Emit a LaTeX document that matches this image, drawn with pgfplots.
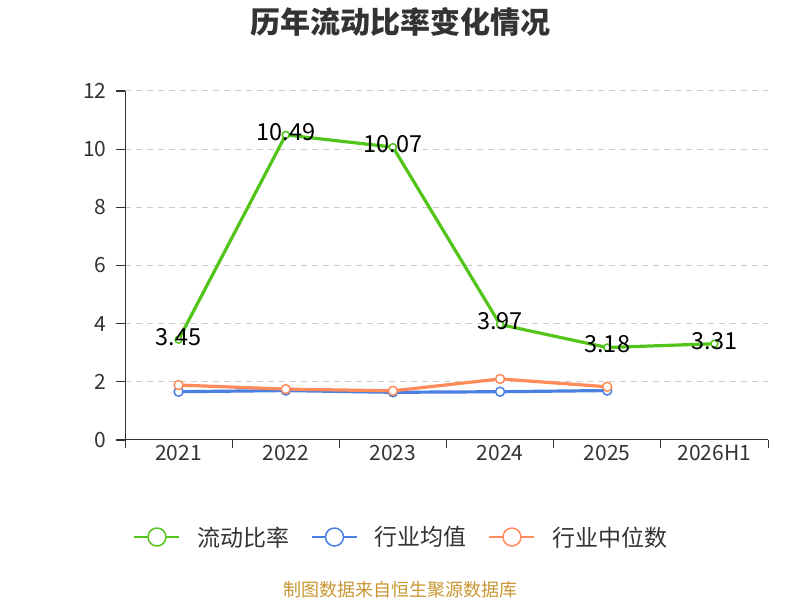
\documentclass[border=0pt]{standalone}
\usepackage{pgfplots}
\pgfplotsset{compat=1.18}
\usepackage{fontspec}
\setmainfont{Noto Sans CJK SC}
\definecolor{cgreen}{RGB}{82,196,26}
\definecolor{cblue}{RGB}{74,128,226}
\definecolor{corange}{RGB}{255,138,90}
\definecolor{ctext}{RGB}{51,51,51}
\definecolor{cgrid}{RGB}{204,204,204}
\definecolor{cfoot}{RGB}{200,150,50}
\begin{document}
\begin{tikzpicture}[x=1pt,y=1pt]
\path (0,0) rectangle (800,600);
\node[font=\fontsize{30}{33}\selectfont\bfseries, text=ctext] at (400,578) {历年流动比率变化情况};
\node[font=\fontsize{18}{21}\selectfont, text=cfoot] at (400,10) {制图数据来自恒生聚源数据库};
\begin{axis}[
  at={(125pt,160pt)}, anchor=south west,
  scale only axis, width=643pt, height=349pt,
  xmin=-0.5, xmax=5.5, ymin=0, ymax=12,
  axis lines*=left,
  axis line style={draw=ctext, line width=1pt},
  xtick={-0.5,0.5,...,5.5},
  xticklabels={},
  extra x ticks={0,1,2,3,4,5},
  extra x tick labels={2021,2022,2023,2024,2025,2026H1},
  extra x tick style={major tick length=0pt, grid=none},
  ytick={0,2,...,12},
  xtick pos=bottom, ytick pos=left,
  tick align=outside,
  major tick length=8pt,
  every tick/.style={draw=ctext, line width=1pt},
  ymajorgrids,
  grid style={draw=cgrid, dashed, line width=1pt, dash pattern=on 6pt off 5pt},
  tick label style={font=\fontsize{21}{24}\selectfont, text=ctext},
  /pgf/number format/assume math mode=true,
  xticklabel style={yshift=-2pt},
  yticklabel style={xshift=-7pt},
  clip=false,
  legend columns=3,
  legend style={at={(0.43,-0.278)}, anchor=center, draw=none, fill=none,
    font=\fontsize{23}{26}\selectfont, text=ctext,
    /tikz/every odd column/.append style={column sep=15pt},
    /tikz/every even column/.append style={column sep=20pt}},
  legend image code/.code={
    \draw[#1, mark=none, line width=1.5pt] (0pt,0pt) -- (45pt,0pt);
    \draw[#1, mark=none, line width=1.5pt, fill=white] (22.5pt,0pt) circle (9pt);},
]
\addplot[cgreen, line width=3.2pt, mark=*, mark size=3.5pt,
  mark options={fill=white, draw=cgreen, line width=1.5pt},
  nodes near coords, point meta=explicit symbolic,
  every node near coord/.append style={anchor=center, yshift=3pt, text=black,
    font=\fontsize{23.5}{26}\selectfont}]
  coordinates {(0,3.45)[3.45] (1,10.49)[10.49] (2,10.07)[10.07] (3,3.97)[3.97] (4,3.18)[3.18] (5,3.31)[3.31]};
\addlegendentry{流动比率}
\addplot[cblue, line width=3.2pt, mark=*, mark size=4.5pt,
  mark options={fill=white, draw=cblue, line width=1.5pt}]
  coordinates {(0,1.66) (1,1.70) (2,1.64) (3,1.66) (4,1.70)};
\addlegendentry{行业均值}
\addplot[corange, line width=3.2pt, mark=*, mark size=4.5pt,
  mark options={fill=white, draw=corange, line width=1.5pt}]
  coordinates {(0,1.89) (1,1.75) (2,1.69) (3,2.10) (4,1.83)};
\addlegendentry{行业中位数}
\pgfplotsinvokeforeach{0,2,4,6,8,10,12}{
  \draw[ctext, line width=1.3pt] (axis cs:-0.5,#1) -- ++(-9pt,0pt);
}
\end{axis}
\end{tikzpicture}
\end{document}
